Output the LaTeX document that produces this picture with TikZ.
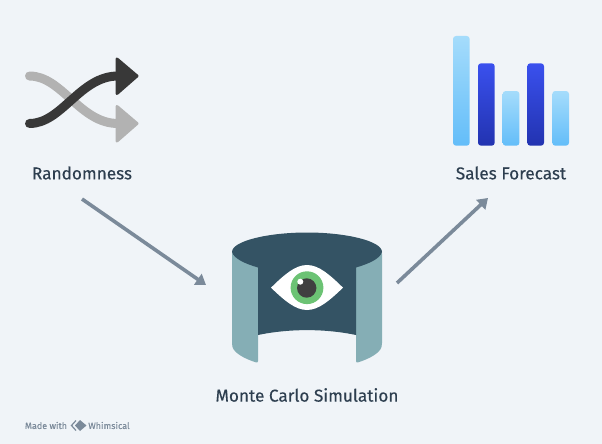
\documentclass[tikz,border=0pt]{standalone}
\usepackage{fontspec}
\setmainfont{Fira Sans}
\newfontfamily\capfont{Fira Sans}[FakeBold=0.2]
\usetikzlibrary{arrows.meta}

\definecolor{bgcol}{HTML}{F0F4F8}
\definecolor{textcol}{HTML}{2D3E4F}
\definecolor{arrowcol}{HTML}{7B8A9A}
\definecolor{drumdark}{HTML}{345364}
\definecolor{drumlight}{HTML}{85AEB5}
\definecolor{eyegreen}{HTML}{6CC374}
\definecolor{BarLightTop}{HTML}{A5DCFB}
\definecolor{BarLightBot}{HTML}{63BDF9}
\definecolor{BarDarkTop}{HTML}{3A50EE}
\definecolor{BarDarkBot}{HTML}{2233B0}

\tikzset{
    caption/.style={text=textcol, font=\capfont\fontsize{17.2}{19}\selectfont, inner sep=0pt},
    footer/.style={text=arrowcol, font=\capfont\fontsize{9}{10}\selectfont, inner sep=0pt},
    flow/.style={draw=arrowcol, line width=3.6, -{Triangle[length=10,width=13]}}
}

\begin{document}
\begin{tikzpicture}[x=1pt,y=-1pt]

\fill [bgcol] (0,0) rectangle (602,444);
\useasboundingbox (0,0) rectangle (602,444);

% shuffle icon
\draw [line width=9, line cap=round, color=black!30] (29.5,76) .. controls (62,76) and (80,123.5) .. (118,123.5);
\fill [black!30, draw=black!30, line width=3, line join=round] (117,106.5) -- (137,123.5) -- (117,141) -- cycle;
\draw [line width=9, line cap=round, color=black!78] (29.5,123.5) .. controls (62,123.5) and (80,76) .. (118,76);
\fill [black!78, draw=black!78, line width=3, line join=round] (117,59) -- (137,76) -- (117,93.5) -- cycle;

% bars
\foreach \x/\y/\a/\b in {453/36/BarLightTop/BarLightBot,478/63.3/BarDarkTop/BarDarkBot,502.7/91/BarLightTop/BarLightBot,527.3/63.3/BarDarkTop/BarDarkBot,552.3/91/BarLightTop/BarLightBot}
    \shade [rounded corners=3, top color=\a, bottom color=\b] (\x,\y) rectangle (\x+16.7,145.7);

% drum
\fill [drumlight, rounded corners=2] (232,252) -- (232,345) .. controls (234,353) and (245,359) .. (258,363) -- (258,262) -- cycle;
\fill [drumlight, rounded corners=2] (382,252) -- (382,345) .. controls (380,353) and (369,359) .. (356,363) -- (356,262) -- cycle;
\fill [drumdark] (232,252) .. controls (232,241) and (268,232.5) .. (307,232.5) .. controls (346,232.5) and (382,241) .. (382,252) .. controls (380,259) and (368,264) .. (356,267.5) -- (356,335) .. controls (325,328.5) and (289,328.5) .. (258,335) -- (258,267.5) .. controls (246,264) and (234,259) .. (232,252) -- cycle;

% eye
\fill [white] (271,287.7) .. controls (284,275) and (295,265) .. (307,265) .. controls (319,265) and (330,275) .. (343,287.7) .. controls (330,300) and (319,310) .. (307,310) .. controls (295,310) and (284,300) .. (271,287.7) -- cycle;
\fill [eyegreen] (307,287.7) circle (16.4);
\fill [black!75] (306.7,288) circle (9.7);
\fill [white] (300.3,281.7) circle (3);

% labels
\node [caption] (rand) at (82,173) {Randomness};
\node [caption] (sales) at (511,173) {Sales Forecast};
\node [caption] (sim) at (307,395) {Monte Carlo Simulation};

% arrows
\coordinate (randout) at (82,199);
\coordinate (simin) at (206,285);
\coordinate (simout) at (397,283);
\coordinate (salesin) at (488,198);
\draw [flow] (randout) -- (simin);
\draw [flow] (simout) -- (salesin);

% footer
\node [footer] (made) at (46,425.5) {Made with};
\node [footer] (whim) at (109,425.5) {Whimsical};
\fill [arrowcol] (80,420) -- (86.5,425.5) -- (80,431) -- (75,425.5) -- cycle;
\draw [arrowcol, line width=1.2] (76,420.5) -- (71.5,425.5) -- (76,430.5);

\end{tikzpicture}
\end{document}
